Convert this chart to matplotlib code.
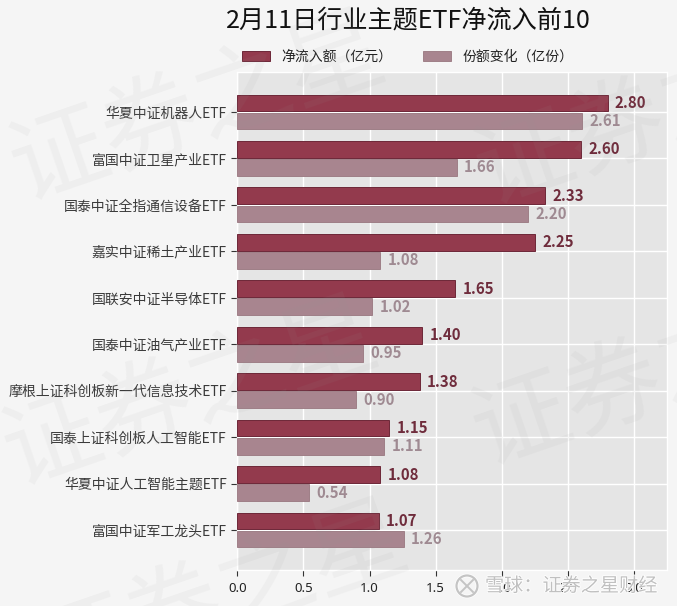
import matplotlib
matplotlib.use('Agg')
import matplotlib.pyplot as plt
import matplotlib.patheffects as pe
from matplotlib.patches import Ellipse
from matplotlib.lines import Line2D
import numpy as np

plt.rcParams['font.family'] = ['Noto Sans CJK SC', 'DejaVu Sans']

categories = ['华夏中证机器人ETF', '富国中证卫星产业ETF', '国泰中证全指通信设备ETF', '嘉实中证稀土产业ETF',
              '国联安中证半导体ETF', '国泰中证油气产业ETF', '摩根上证科创板新一代信息技术ETF',
              '国泰上证科创板人工智能ETF', '华夏中证人工智能主题ETF', '富国中证军工龙头ETF']
net_inflow = [2.80, 2.60, 2.33, 2.25, 1.65, 1.40, 1.38, 1.15, 1.08, 1.07]
share_change = [2.61, 1.66, 2.20, 1.08, 1.02, 0.95, 0.90, 1.11, 0.54, 1.26]
xticks = [0.0, 0.5, 1.0, 1.5, 2.0, 2.5, 3.0]
title = '2月11日行业主题ETF净流入前10'
legend_labels = ['净流入额（亿元）', '份额变化（亿份）']

W, H = 677, 606
fig = plt.figure(figsize=(W / 100, H / 100), dpi=100, facecolor='#f5f5f5')
ax = fig.add_axes([237.3 / W, 1 - 570 / H, (667 - 237.3) / W, (570 - 72) / H], facecolor='#e5e5e5')

y = np.arange(len(categories))
h = 0.36
off = 0.195
c1, c2 = '#933a4d', '#a8858f'
ax.barh(y - off, net_inflow, h, color=c1, edgecolor='#6d2738', linewidth=0.7, label=legend_labels[0], zorder=3)
ax.barh(y + off, share_change, h, color=c2, edgecolor='#98767f', linewidth=0.6, label=legend_labels[1], zorder=3)

for yi, v in zip(y, net_inflow):
    ax.text(v + 0.055, yi - off, f'{v:.2f}', va='center', ha='left', fontsize=10.8,
            fontweight='bold', color='#6f2c3c', zorder=4)
for yi, v in zip(y, share_change):
    ax.text(v + 0.055, yi + off, f'{v:.2f}', va='center', ha='left', fontsize=10.8,
            fontweight='bold', color='#9f8a92', zorder=4)

ax.set_xlim(0, 3.25)
ax.set_ylim(len(categories) - 1 + 0.86, -0.86)
ax.set_yticks(y)
ax.set_yticklabels(categories, fontsize=10, color='#3a3a3a')
ax.set_xticks(xticks)
ax.set_xticklabels([f'{t:.1f}' for t in xticks], fontsize=9.5, color='#222222', family='Noto Sans')
ax.grid(True, color='white', linewidth=1, zorder=1)
ax.set_axisbelow(True)
for s in ax.spines.values():
    s.set_color('white')
    s.set_linewidth(1)
ax.tick_params(axis='both', length=4.5, width=0.8, color='#333333', pad=4)
ax.tick_params(axis='y', pad=3)

fig.text(408 / W, 1 - 21 / H, title, fontsize=18.1, ha='center', va='center', color='#111111')
fig.legend(loc='center left', bbox_to_anchor=(242 / W, 1 - 57 / H), ncol=2, frameon=False,
           borderpad=0, borderaxespad=0, fontsize=10, columnspacing=2.2, handlelength=2.0,
           handleheight=0.65, handletextpad=0.86, labelcolor='#222222')

# faint diagonal watermarks
for (px, py) in [(197, 110), (662, 114), (190, 395), (659, 375), (220, 599), (680, 650)]:
    fig.text(px / W, 1 - py / H, '证券之星', fontsize=70, rotation=19, ha='center', va='center',
             color='#999999', alpha=0.08, zorder=10)

# Xueqiu mark, bottom right
fig.add_artist(Ellipse((467 / W, 1 - 586 / H), 21 / W, 21 / H, transform=fig.transFigure, fill=False,
                       edgecolor='#c4c4c4', linewidth=1.6, zorder=11,
                       path_effects=[pe.withStroke(linewidth=2.6, foreground='white')]))
for x0, y0, x1, y1 in [(461, 580, 473, 592), (461, 592, 473, 580)]:
    fig.add_artist(Line2D([x0 / W, x1 / W], [1 - y0 / H, 1 - y1 / H], transform=fig.transFigure,
                          color='#c4c4c4', linewidth=1.4, zorder=11))
fig.text(571 / W, 1 - 586 / H, '雪球：证券之星财经', fontsize=13.8, ha='center', va='center',
         color='#c0c0c0', zorder=11, path_effects=[pe.withStroke(linewidth=1.2, foreground='white')])

fig.savefig('out.png', dpi=100, facecolor=fig.get_facecolor())
